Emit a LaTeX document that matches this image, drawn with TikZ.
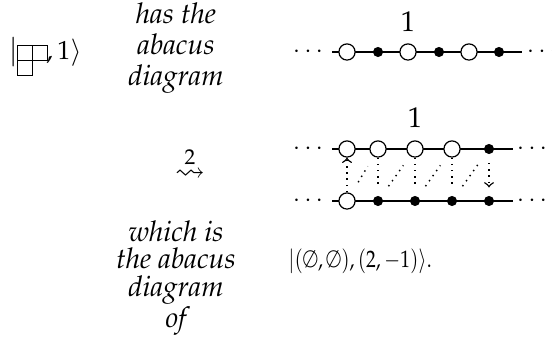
\documentclass[tikz,border=0pt]{standalone}
\usepackage[T1]{fontenc}
\usepackage{mathpazo}
\usepackage{amsmath,amssymb}
\usetikzlibrary{positioning}

\begin{document}
\begin{tikzpicture}[
  x=0.42pt, y=0.42pt,
  words/.style={align=center, inner sep=0pt,
                font=\itshape\fontsize{12}{13.2}\selectfont},
  lab/.style={inner sep=0pt, font=\fontsize{12}{13}\selectfont},
  hole/.style={circle, draw, fill=white, inner sep=0pt, minimum size=6.8pt,
               line width=0.5pt},
  bead/.style={circle, draw, fill, inner sep=0pt, minimum size=3.8pt},
  runner/.style={line width=0.6pt},
  dots/.style={anchor=base, inner sep=0pt},
  move/.style={dotted, line width=0.6pt},
  moveto/.style={move, -to}
]
\useasboundingbox (0,0) rectangle (552,349);

% the partition
\node[lab, anchor=base] (bar) at (14,289) {$|$};
\draw[line width=0.4pt] (17,289) rectangle (47,304) (32,289) -- (32,304)
  (17,289) rectangle (32,274);
\node[lab, anchor=base west, font=\fontsize{11}{12}\selectfont] (charge)
  at (46,289) {$,1\rangle$};
\node[words, anchor=north] (has) at (176,347) {has the\\abacus\\diagram};

% first abacus
\coordinate (aL) at (332,297);
\coordinate (aR) at (522,297);
\draw[runner] (aL) -- (aR);
\node[dots] (aldots) at (310,291) {$\cdots$};
\node[dots] (ardots) at (544,291) {$\cdots$};
\foreach \n/\x/\k in {0/347/hole,1/378/bead,2/408/hole,3/439/bead,4/469/hole,5/499/bead}
  \node[\k] (a\n) at (\x,297) {};
\node[lab, anchor=base] (alab) at (408,317) {$1$};

\node[lab, anchor=base] (squig) at (190,168) {$\overset{2}{\rightsquigarrow}$};

% two runners
\coordinate (tL) at (332,200);
\coordinate (tR) at (513,200);
\coordinate (bL) at (332,148);
\coordinate (bR) at (513,148);
\draw[runner] (tL) -- (tR);
\draw[runner] (bL) -- (bR);
\node[dots] (tldots) at (310,194) {$\cdots$};
\node[dots] (trdots) at (534,194) {$\cdots$};
\node[dots] (bldots) at (310,142) {$\cdots$};
\node[dots] (brdots) at (534,142) {$\cdots$};
\foreach \n/\x/\k in {0/347/hole,1/378/hole,2/415/hole,3/452/hole,4/489/bead}
  \node[\k] (t\n) at (\x,200) {};
\foreach \n/\x/\k in {0/347/hole,1/378/bead,2/415/bead,3/452/bead,4/489/bead}
  \node[\k] (b\n) at (\x,148) {};
\node[lab, anchor=base] (tlab) at (415,221) {$1$};

\draw[moveto] (b0) -- (t0);
\foreach \i/\j in {0/1,1/2,2/3,3/4}
  \draw[move, shorten <=5.5pt, shorten >=4.8pt] (b\i) -- (t\j);
\foreach \i in {1,2,3}
  \draw[move, shorten >=3.4pt] (t\i) -- (b\i);
\draw[moveto, shorten <=3.8pt, shorten >=3.6pt] (t4) -- (b4);

\node[words, anchor=north, font=\itshape\fontsize{12}{11.6}\selectfont] (which)
  at (176,129) {which is\\the abacus\\diagram\\of};
\node[anchor=base west, inner sep=0pt, font=\fontsize{10}{12}\selectfont] (result)
  at (288,81) {\scalebox{0.82}[1]{$|(\emptyset,\emptyset),(2,-1)\rangle.$}};
\end{tikzpicture}
\end{document}
